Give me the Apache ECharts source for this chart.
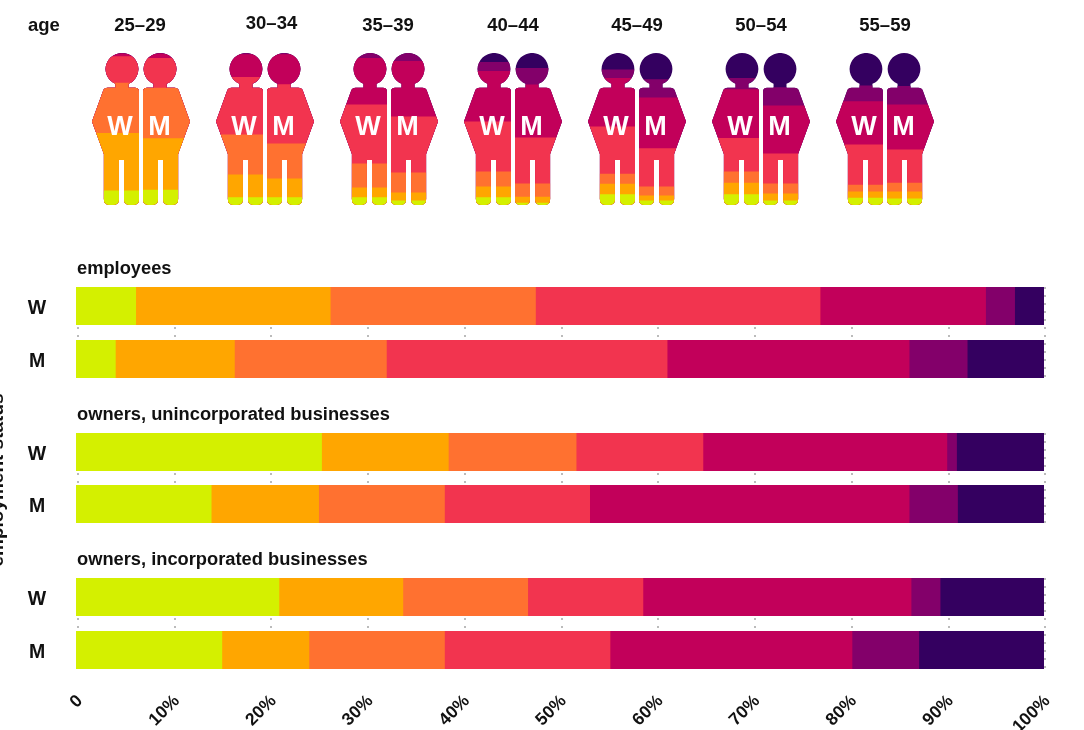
<!DOCTYPE html>
<html>
<head>
<meta charset="utf-8">
<title>age and employment status</title>
<style>
	html, body { margin: 0; padding: 0; background: #fff; }
	#main { width: 1084px; height: 730px; }
</style>
<script src="https://cdn.jsdelivr.net/npm/echarts@6/dist/echarts.min.js"></script>
</head>
<body>
<div id="main"></div>
<script type="text/javascript">
	// youngest to oldest share, bottom band first
	var bandColors = ['#d4f000', '#ffa600', '#ff7130', '#f2344f', '#c2005a', '#83006a', '#340060'];
	var ages = ['25–29', '30–34', '35–39', '40–44', '45–49', '50–54', '55–59'];
	var tickLabels = ['0', '10%', '20%', '30%', '40%', '50%', '60%', '70%', '80%', '90%', '100%'];
	var rowNames = ['W', 'M'];
	var groupNames = ['employees', 'owners, unincorporated businesses', 'owners, incorporated businesses'];

	// figures: share of the body height per band, one row per age group
	var womenBands = [
		[9.5, 37.8, 33.2, 17.4, 1.8, 0.3, 0],
		[5.1, 14.9, 26.4, 37.8, 14.9, 0.9, 0],
		[5.1, 6.4, 15.8, 38.9, 30.5, 3.3, 0],
		[5.1, 7.0, 9.9, 33.0, 33.2, 5.9, 5.9],
		[7.0, 7.0, 6.6, 31.0, 31.9, 5.7, 10.8],
		[7.0, 7.7, 7.3, 22.0, 32.1, 7.5, 16.5],
		[4.8, 4.0, 4.6, 26.4, 28.4, 10.5, 21.3]
	];
	var menBands = [
		[10.1, 33.8, 33.2, 19.6, 2.9, 0.4, 0],
		[5.1, 12.3, 23.1, 38.9, 19.8, 0.8, 0],
		[2.9, 5.3, 13.2, 36.9, 36.4, 5.3, 0],
		[1.5, 4.0, 8.6, 30.3, 34.9, 10.8, 9.9],
		[2.9, 3.3, 5.9, 25.3, 33.4, 11.9, 17.4],
		[2.9, 4.6, 6.6, 19.8, 31.6, 11.9, 22.6],
		[4.2, 4.6, 5.9, 21.8, 29.7, 12.1, 21.8]
	];

	// bars: percent per band
	var employeesW = [6.2, 20.1, 21.2, 29.4, 17.1, 3.0, 3.0];
	var employeesM = [4.1, 12.3, 15.7, 29.0, 25.0, 6.0, 8.0];
	var unincorporatedW = [25.4, 13.1, 13.2, 13.1, 25.2, 1.0, 9.0];
	var unincorporatedM = [14.0, 11.1, 13.0, 15.0, 33.0, 5.0, 8.9];
	var incorporatedW = [21.0, 12.8, 12.9, 11.9, 27.7, 3.0, 10.7];
	var incorporatedM = [15.1, 9.0, 14.0, 17.1, 25.0, 6.9, 12.9];

	var womanPath = 'path://M69,92 A48,48 0 1 1 107,92 L107,104 L126,104 Q138,104 138,116 L138,438 Q138,455 121,455 L111,455 Q94,455 94,438 L94,320 L79,320 L79,438 Q79,455 62,455 L52,455 Q35,455 35,438 L35,302 L0,205 L33,112 Q36,104 46,104 L69,104 Z';
	var manPath = 'path://M31,92 A48,48 0 1 1 69,92 L69,104 L92,104 Q102,104 105,112 L138,205 L103,302 L103,438 Q103,455 86,455 L76,455 Q59,455 59,438 L59,320 L44,320 L44,438 Q44,455 27,455 L17,455 Q0,455 0,438 L0,116 Q0,104 12,104 L31,104 Z';

	var textColor = '#111';
	var fontName = '"Liberation Sans", Arial, sans-serif';
	var chart = echarts.init(document.getElementById('main'));

	var grid = [], xAxis = [], yAxis = [], series = [], title = [];

	// running total up to and including band b
	function upTo(row, b) {
		var sum = 0;
		for (var i = 0; i <= b; i++) sum += row[i];
		return sum;
	}

	// two pictogram grids, one per sex, both 7 bands of 124px wide
	function addFigures(idx, left, rows, path, letter, labelOffset) {
		grid.push({ left: left, top: 53, width: 868, height: 152 });
		xAxis.push({ gridIndex: idx, type: 'category', data: ages, show: false });
		yAxis.push({ gridIndex: idx, type: 'value', min: 0, max: 100, show: false });
		// paint tallest cumulative first, so lower bands land on top of it
		for (var b = bandColors.length - 1; b >= 0; b--) {
			series.push({
				type: 'pictorialBar',
				xAxisIndex: idx,
				yAxisIndex: idx,
				barWidth: 47,
				barGap: '-100%',
				symbol: path,
				symbolClip: true,
				symbolBoundingData: 100,
				symbolSize: ['100%', '100%'],
				symbolPosition: 'start',
				itemStyle: { color: bandColors[b] },
				silent: true,
				data: rows.map(function(r) { return upTo(r, b); })
			});
		}
		series.push({
			type: 'scatter',
			xAxisIndex: idx,
			yAxisIndex: idx,
			symbolSize: 0,
			silent: true,
			z: 5,
			itemStyle: { opacity: 1 },
			label: {
				show: true,
				position: 'inside',
				offset: [labelOffset, 0],
				formatter: letter,
				color: '#fff',
				opacity: 1,
				fontFamily: fontName,
				fontWeight: 'bold',
				fontSize: 27
			},
			data: ages.map(function(a) { return [a, 51]; })
		});
	}
	addFigures(0, 53.5, womenBands, womanPath, 'W', 4.5);
	addFigures(1, 104.5, menBands, manPath, 'M', -7);

	// three panels of bars, overlapped from the full length down so no seams show
	var panels = [
		{ top: 279.5, height: 106, lineTop: 287, lineHeight: 91, rows: [employeesW, employeesM] },
		{ top: 426, height: 104, lineTop: 433, lineHeight: 90, rows: [unincorporatedW, unincorporatedM] },
		{ top: 570.5, height: 106, lineTop: 578, lineHeight: 91, rows: [incorporatedW, incorporatedM] }
	];
	panels.forEach(function(p, n) {
		var idx = grid.length;
		grid.push({ left: 76, width: 968, top: p.top, height: p.height });
		xAxis.push({ gridIndex: idx, type: 'value', min: 0, max: 100, show: false });
		yAxis.push({
			gridIndex: idx,
			type: 'category',
			inverse: true,
			data: rowNames,
			axisLine: { show: false },
			axisTick: { show: false },
			axisLabel: {
				margin: 39,
				align: 'center',
				verticalAlign: 'top',
				lineHeight: 5, // drops the letter about 2px under the bar centre
				color: textColor,
				fontFamily: fontName,
				fontWeight: 'bold',
				fontSize: 19.5
			}
		});
		for (var b = bandColors.length - 1; b >= 0; b--) {
			series.push({
				type: 'bar',
				xAxisIndex: idx,
				yAxisIndex: idx,
				barWidth: 38,
				barGap: '-100%',
				silent: true,
				itemStyle: { color: bandColors[b] },
				data: p.rows.map(function(r) { return upTo(r, b); })
			});
		}
		title.push({
			text: groupNames[n],
			left: 77,
			top: p.lineTop - 27,
			textStyle: { color: textColor, fontFamily: fontName, fontWeight: 'bold', fontSize: 18.3 },
			padding: 0
		});
	});

	// the dotted guides sit a touch right of the bars, so they get their own grids
	panels.forEach(function(p) {
		var idx = grid.length;
		grid.push({ left: 77.7, width: 967.4, top: p.lineTop, height: p.lineHeight });
		xAxis.push({
			gridIndex: idx,
			type: 'value',
			min: 0,
			max: 100,
			interval: 10,
			axisLine: { show: false },
			axisTick: { show: false },
			axisLabel: { show: false },
			splitLine: { show: true, lineStyle: { color: '#bbb', width: 2, type: [2, 6] } }
		});
		yAxis.push({ gridIndex: idx, type: 'value', min: 0, max: 1, show: false });
	});

	// tick labels on their own axis, nudged right of the guides
	var labelIdx = grid.length;
	grid.push({ left: 80, width: 967.4, top: 668, height: 1 });
	xAxis.push({
		gridIndex: labelIdx,
		type: 'value',
		min: 0,
		max: 100,
		interval: 10,
		axisLine: { show: false },
		axisTick: { show: false },
		splitLine: { show: false },
		axisLabel: {
			rotate: 45,
			margin: 30,
			showMinLabel: true,
			showMaxLabel: true,
			color: textColor,
			fontFamily: fontName,
			fontWeight: 'bold',
			fontSize: 17.5,
			formatter: function(v) { return tickLabels[Math.round(v / 10)]; }
		}
	});
	yAxis.push({ gridIndex: labelIdx, type: 'value', min: 0, max: 1, show: false });

	// age labels over each pair, 30-34 sits a bit off in the original
	var ageX = [140, 271.5, 388, 513, 637, 761, 885];
	var ageY = [16, 14.5, 16, 16, 16, 16, 16];
	ages.forEach(function(a, i) {
		title.push({
			text: a,
			left: ageX[i],
			top: ageY[i],
			textAlign: 'center',
			padding: 0,
			textStyle: { color: textColor, fontFamily: fontName, fontWeight: 'bold', fontSize: 18.5 }
		});
	});
	title.push({
		text: 'age',
		left: 28,
		top: 16,
		padding: 0,
		textStyle: { color: textColor, fontFamily: fontName, fontWeight: 'bold', fontSize: 18.5 }
	});

	chart.setOption({
		animation: false,
		backgroundColor: '#fff',
		title: title,
		grid: grid,
		xAxis: xAxis,
		yAxis: yAxis,
		series: series,
		graphic: [{
			type: 'text',
			x: -2,
			y: 480,
			rotation: Math.PI / 2,
			style: {
				text: 'employment status',
				fill: textColor,
				font: 'bold 19px ' + fontName,
				textAlign: 'center',
				textVerticalAlign: 'middle'
			}
		}]
	});
</script>
</body>
</html>
